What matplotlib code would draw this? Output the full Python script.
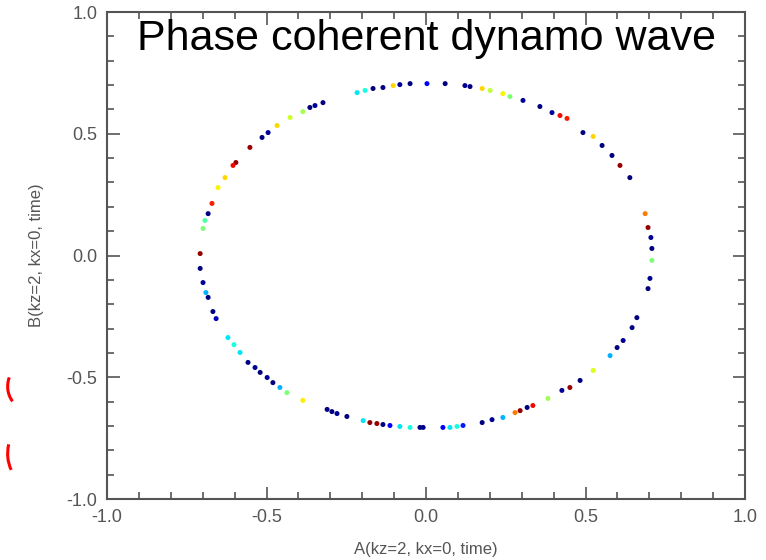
import numpy as np
import matplotlib.pyplot as plt
from matplotlib.ticker import MultipleLocator
from matplotlib.patches import Arc

# A(kz=2, kx=0, time) and B(kz=2, kx=0, time) samples
A = [0.696, 0.702, 0.708, 0.708, 0.705, 0.696, 0.687,
     0.639, 0.608, 0.583, 0.552, 0.524, 0.492, 0.442, 0.420, 0.395, 0.357,
     0.304, 0.263, 0.241, 0.201, 0.176, 0.138, 0.122, 0.060, 0.003, -0.050,
     -0.082, -0.103, -0.135, -0.166, -0.191, -0.216, -0.323, -0.348, -0.364,
     -0.386, -0.426, -0.467, -0.495, -0.514, -0.552, -0.596, -0.605, -0.630,
     -0.652, -0.671, -0.683, -0.693, -0.699, -0.708, -0.708, -0.699, -0.690,
     -0.683, -0.668, -0.658, -0.621, -0.602, -0.583, -0.558, -0.536, -0.520,
     -0.498, -0.480, -0.458, -0.436, -0.386, -0.310, -0.295, -0.279, -0.248,
     -0.197, -0.176, -0.154, -0.135, -0.113, -0.082, -0.050, -0.019, -0.009,
     0.053, 0.075, 0.097, 0.116, 0.176, 0.207, 0.241, 0.279, 0.295, 0.317,
     0.335, 0.382, 0.426, 0.451, 0.483, 0.524, 0.577, 0.599, 0.618, 0.646,
     0.661]
B = [-0.136, -0.094, -0.020, 0.029, 0.074, 0.115, 0.172,
     0.320, 0.370, 0.411, 0.452, 0.489, 0.505, 0.563, 0.575, 0.587, 0.612,
     0.637, 0.653, 0.665, 0.678, 0.686, 0.694, 0.698, 0.706, 0.706, 0.706,
     0.702, 0.698, 0.690, 0.686, 0.678, 0.669, 0.628, 0.616, 0.608,
     0.591, 0.567, 0.534, 0.505, 0.485, 0.444, 0.382, 0.370, 0.320,
     0.279, 0.214, 0.172, 0.144, 0.111, 0.008, -0.053, -0.111, -0.152,
     -0.172, -0.230, -0.259, -0.337, -0.366, -0.398, -0.439, -0.460, -0.480,
     -0.501, -0.522, -0.542, -0.563, -0.595, -0.632, -0.641, -0.649, -0.661,
     -0.678, -0.686, -0.690, -0.694, -0.698, -0.702, -0.706, -0.706, -0.706,
     -0.706, -0.706, -0.702, -0.698, -0.686, -0.674, -0.665, -0.645, -0.637, -0.624,
     -0.616, -0.587, -0.554, -0.542, -0.513, -0.472, -0.411, -0.378, -0.349, -0.296,
     -0.255]
# colour index (jet) of each sample
C = [0.00, 0.02, 0.50, 0.00, 0.02, 0.98, 0.78,
     0.00, 0.98, 0.00, 0.00, 0.68, 0.00, 0.88, 0.90, 0.02, 0.00,
     0.02, 0.50, 0.65, 0.58, 0.68, 0.00, 0.02, 0.00, 0.12, 0.00,
     0.02, 0.68, 0.00, 0.00, 0.38, 0.35, 0.00, 0.02, 0.00,
     0.55, 0.60, 0.68, 0.02, 0.00, 0.98, 0.98, 0.90, 0.68,
     0.65, 0.88, 0.00, 0.45, 0.50, 0.98, 0.00, 0.02, 0.30,
     0.00, 0.00, 0.05, 0.35, 0.38, 0.35, 0.00, 0.02, 0.00,
     0.02, 0.00, 0.30, 0.50, 0.66, 0.00, 0.00, 0.02, 0.00,
     0.35, 0.98, 0.98, 0.00, 0.12, 0.35, 0.38, 0.00, 0.02,
     0.12, 0.35, 0.38, 0.15, 0.00, 0.02, 0.30, 0.78, 0.98, 0.00,
     0.90, 0.55, 0.02, 0.98, 0.00, 0.62, 0.30, 0.00, 0.02, 0.00,
     0.00]

title_text = 'Phase coherent dynamo wave'
xlabel = 'A(kz=2, kx=0, time)'
ylabel = 'B(kz=2, kx=0, time)'

plt.rcParams['font.family'] = ['Liberation Sans', 'DejaVu Sans']

fig = plt.figure(figsize=(7.66, 5.60), dpi=100)
ax = fig.add_axes([0.1397, 0.1089, 0.8329, 0.8696])

ax.scatter(A, B, c=C, cmap='jet', vmin=0, vmax=1, s=13, edgecolors='none', zorder=3)

ax.set_xlim(-1, 1)
ax.set_ylim(-1, 1)
ax.xaxis.set_major_locator(MultipleLocator(0.5))
ax.yaxis.set_major_locator(MultipleLocator(0.5))
ax.xaxis.set_minor_locator(MultipleLocator(0.1))
ax.yaxis.set_minor_locator(MultipleLocator(0.1))
ax.xaxis.set_major_formatter(lambda v, p: f'{v:.1f}')
ax.yaxis.set_major_formatter(lambda v, p: f'{v:.1f}')

gray = '#555555'
ax.tick_params(which='both', direction='in', top=True, right=True, colors=gray,
               labelcolor=gray, width=1.2)
ax.tick_params(which='major', length=9, labelsize=13, pad=7)
ax.tick_params(which='minor', length=5)
for s in ax.spines.values():
    s.set_color(gray)
    s.set_linewidth(1.5)

ax.set_xlabel(xlabel, fontsize=12, color=gray, labelpad=12)
ax.set_ylabel(ylabel, fontsize=12, color=gray, labelpad=16)

ax.text(0.5, 0.985, title_text, transform=ax.transAxes, ha='center', va='top',
        fontsize=31, color='black')

# red fragments of a neighbouring figure at the left edge
for cy, h in [(0.31, 0.08), (0.19, 0.10)]:
    fig.add_artist(Arc((0.035, cy), 0.05, h, theta1=145, theta2=235,
                       transform=fig.transFigure, color='red', lw=2.2))

fig.savefig('out.png', dpi=100)
